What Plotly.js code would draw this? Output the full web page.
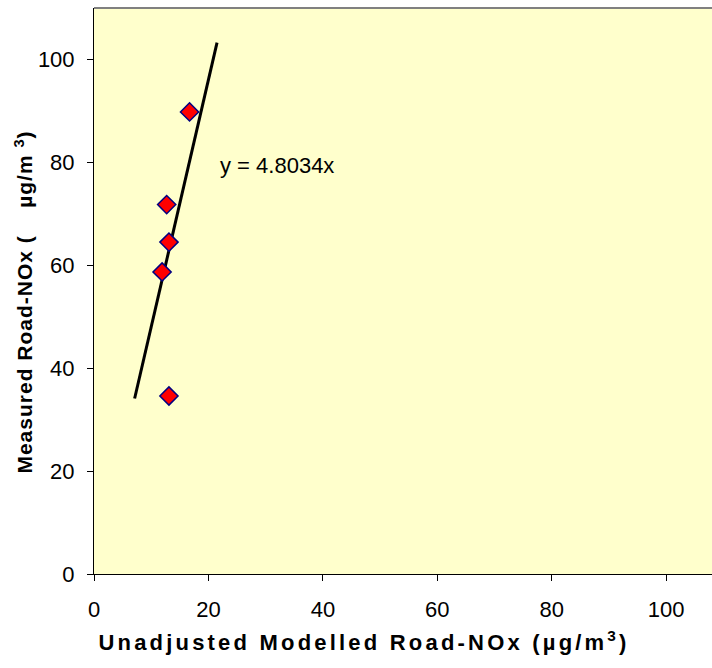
<!DOCTYPE html>
<html>
<head>
<meta charset="utf-8">
<script src="https://cdn.plot.ly/plotly-3.0.1.min.js"></script>
<style>html,body{margin:0;padding:0;background:#fff;}#chart{width:712px;height:668px;}</style>
</head>
<body>
<div id="chart"></div>
<script>
// Data
var modelledNOx = [16.7, 12.7, 13.1, 11.9, 13.1];
var measuredNOx = [89.8, 71.8, 64.5, 58.7, 34.6];
var trendSlope = 4.8034;
var trendX = [7.1, 21.5];
var trendY = trendX.map(function (x) { return trendSlope * x; });
var xTicks = [0, 20, 40, 60, 80, 100];
var yTicks = [0, 20, 40, 60, 80, 100];
var equationLabel = "y = 4.8034x";
var xTitle = "Unadjusted Modelled Road-NOx (µg/m<sup>3</sup>)";
var yTitle = "Measured Road-NOx (&nbsp;&nbsp;&nbsp;&nbsp;µg/m <sup>3</sup>)";

var font = "Liberation Sans, Arial, sans-serif";

var traces = [
  {
    x: trendX, y: trendY, mode: "lines", type: "scatter",
    line: {color: "#000000", width: 3}, hoverinfo: "skip", showlegend: false
  },
  {
    x: modelledNOx, y: measuredNOx, mode: "markers", type: "scatter",
    marker: {symbol: "diamond", size: 14, color: "#FF0000", line: {color: "#000080", width: 1.5}},
    showlegend: false
  }
];

var pw = 712 - 93.5, ph = 668 - 8 - 94;

var layout = {
  width: 712, height: 668,
  margin: {l: 93.5, r: 0, t: 8, b: 94, pad: 0},
  paper_bgcolor: "#FFFFFF",
  plot_bgcolor: "#FFFFCC",
  font: {family: font, size: 22, color: "#000000"},
  xaxis: {
    range: [0, 108], tickvals: xTicks, ticktext: xTicks.map(String),
    ticks: "outside", ticklen: 6, tickcolor: "#000", tickwidth: 1,
    showline: true, linecolor: "#000", linewidth: 1, zeroline: false, showgrid: false,
    tickfont: {family: font, size: 22}, ticklabelstandoff: 10, fixedrange: true
  },
  yaxis: {
    range: [0, 110], tickvals: yTicks, ticktext: yTicks.map(String),
    ticks: "outside", ticklen: 6, tickcolor: "#000", tickwidth: 1,
    showline: true, linecolor: "#000", linewidth: 1, zeroline: false, showgrid: false,
    tickfont: {family: font, size: 22}, ticklabelstandoff: 8, fixedrange: true
  },
  shapes: [
    {type: "line", xref: "paper", yref: "paper", x0: 0, x1: 1, y0: 1, y1: 1,
     line: {color: "#808080", width: 2}}
  ],
  annotations: [
    {x: 21.6, y: 79.4, xref: "x", yref: "y", xanchor: "left", yanchor: "middle",
     text: equationLabel, showarrow: false, font: {family: font, size: 22}},
    {x: (364 - 93.5) / pw, y: (668 - 94 - 641) / ph, xref: "paper", yref: "paper", showarrow: false,
     text: "<b>" + xTitle + "</b>", font: {family: font, size: 22}, xanchor: "center", yanchor: "middle"},
    {x: (23 - 93.5) / pw, y: (668 - 94 - 302) / ph, xref: "paper", yref: "paper", showarrow: false, textangle: -90,
     text: "<b>" + yTitle + "</b>", font: {family: font, size: 21}, xanchor: "center", yanchor: "middle"}
  ]
};

Plotly.newPlot("chart", traces, layout, {displayModeBar: false, staticPlot: true}).then(function () {
  var txts = document.querySelectorAll(".annotation-text");
  if (txts[1]) txts[1].style.letterSpacing = "3.2px";
  if (txts[2]) txts[2].style.letterSpacing = "1px";
});
</script>
</body>
</html>
